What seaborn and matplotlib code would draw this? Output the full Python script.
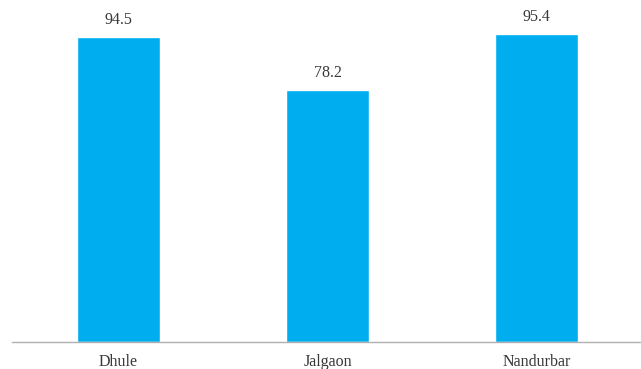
import matplotlib
matplotlib.use("Agg")
import matplotlib.pyplot as plt
import seaborn as sns
import pandas as pd

districts = ["Dhule", "Jalgaon", "Nandurbar"]
values = [94.5, 78.2, 95.4]

sns.set_theme(style="white")
plt.rcParams["font.family"] = ["Liberation Serif", "DejaVu Serif"]

df = pd.DataFrame({"district": districts, "value": values})

W, H, DPI = 641, 369, 100
fig = plt.figure(figsize=(W / DPI, H / DPI), dpi=DPI)
left, right = 12 / W, 1.0
bottom, top = (H - 342) / H, 1.0
ax = fig.add_axes([left, bottom, right - left, top - bottom])

sns.barplot(data=df, x="district", y="value", color="#00AEEF", width=0.40,
            saturation=1, ax=ax)

ax.set_xlim(-0.51, 2.5)
ax.set_ylim(0, 342 / 3.225)

for p, v in zip(ax.patches, values):
    ax.annotate(f"{v:.1f}", (p.get_x() + p.get_width() / 2, p.get_height()),
                xytext=(0, 6.5), textcoords="offset points", ha="center", va="bottom",
                fontsize=11.5, color="#383838")

for s in ["top", "right", "left"]:
    ax.spines[s].set_visible(False)
ax.spines["bottom"].set_color("#b0b0b0")
ax.spines["bottom"].set_linewidth(1.0)
ax.set_yticks([])
ax.set_xlabel("")
ax.set_ylabel("")
ax.tick_params(axis="x", length=0, pad=9, labelsize=11.5, labelcolor="#383838")

fig.savefig("out.png", dpi=DPI)
